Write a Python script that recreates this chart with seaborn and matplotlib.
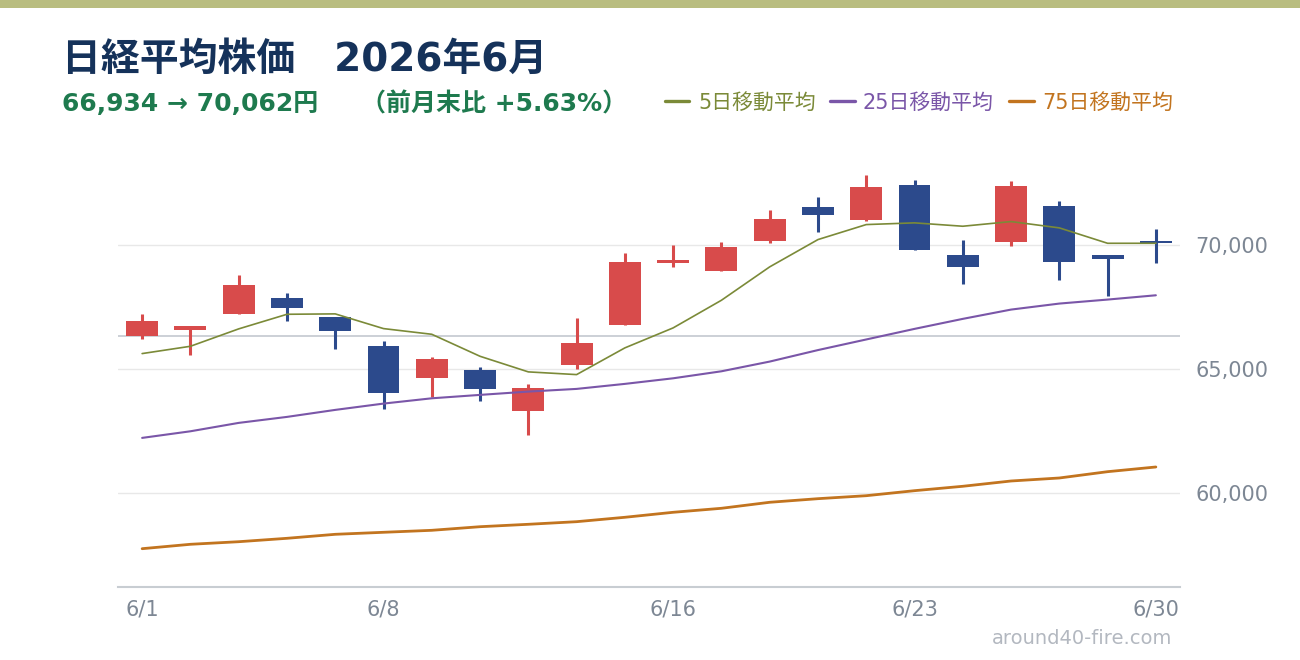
import matplotlib
matplotlib.use("Agg")
import matplotlib.pyplot as plt
import pandas as pd
import seaborn as sns
from matplotlib.lines import Line2D
from matplotlib.patches import Rectangle

W, H = 1300, 660

# trading days of June 2026
dates = ["6/1", "6/2", "6/3", "6/4", "6/5", "6/8", "6/9", "6/10", "6/11", "6/12", "6/15",
         "6/16", "6/17", "6/18", "6/19", "6/22", "6/23", "6/24", "6/25", "6/26", "6/29", "6/30"]
opens = [66348, 66590, 67206, 67878, 67113, 65946, 64629, 64980, 63301, 65153, 66763,
         69259, 68965, 70145, 71542, 71019, 72428, 69609, 70105, 71582, 69609, 70140]
highs = [67234, 66751, 68805, 68080, 67113, 66147, 65503, 65100, 64416, 67073, 69690,
         70012, 70133, 71421, 71945, 72830, 72629, 70213, 72589, 71784, 69609, 70656]
lows = [66228, 65555, 67206, 66924, 65825, 63381, 63893, 63703, 62335, 64992, 66763,
        69098, 68965, 70064, 70507, 70978, 69783, 68442, 69972, 68603, 67959, 69287]
closes = [66952, 66751, 68402, 67448, 66550, 64025, 65422, 64187, 64255, 66038, 69328,
          69408, 69932, 71059, 71220, 72347, 69783, 69126, 72387, 69328, 69448, 70062]

ma5 = [65624, 65918, 66618, 67206, 67222, 66630, 66401, 65515, 64887, 64778, 65853,
       66658, 67770, 69114, 70213, 70817, 70886, 70750, 70938, 70684, 70064, 70064]
ma25 = [62230, 62496, 62834, 63075, 63357, 63611, 63824, 63961, 64094, 64202, 64404,
        64629, 64911, 65302, 65765, 66192, 66618, 67021, 67395, 67637, 67798, 67971]
ma75 = [57770, 57947, 58051, 58188, 58349, 58430, 58510, 58655, 58752, 58857, 59034,
        59235, 59396, 59638, 59783, 59903, 60105, 60282, 60495, 60616, 60870, 61059]

ref_level = 66330
y_ticks = [60000, 65000, 70000]
x_tick_dates = ["6/1", "6/8", "6/16", "6/23", "6/30"]

title = "日経平均株価\u30002026年6月"
subtitle_price = "66,934 → 70,062円"
subtitle_change = "（前月末比 +5.63%）"
legend_labels = ["5日移動平均", "25日移動平均", "75日移動平均"]
watermark = "around40-fire.com"

UP_COLOR = "#d84b4b"
DOWN_COLOR = "#2c4a8c"
MA_COLORS = ["#7b8a38", "#7a56a8", "#c2741f"]
TICK_COLOR = "#7d8794"

sns.set_theme(style="white")
plt.rcParams["font.family"] = ["DejaVu Sans", "Noto Sans CJK JP"]

df = pd.DataFrame({"date": dates, "open": opens, "high": highs, "low": lows, "close": closes,
                   "ma5": ma5, "ma25": ma25, "ma75": ma75})
df["pos"] = range(len(df))
df["color"] = [UP_COLOR if c >= o else DOWN_COLOR for o, c in zip(df["open"], df["close"])]

fig = plt.figure(figsize=(W / 100, H / 100), dpi=100)
fig.add_artist(Rectangle((0, 1 - 8 / H), 1, 8 / H, transform=fig.transFigure,
                         color="#b9bd80", lw=0))

ax = fig.add_axes([118 / W, 1 - 586.7 / H, (1180 - 118) / W, (586.7 - 145.5) / H])

# candles
ax.vlines(df["pos"], df["low"], df["high"], colors=df["color"], lw=2.2, zorder=3)
ax.bar(df["pos"], (df["close"] - df["open"]).abs(), bottom=df[["open", "close"]].min(axis=1),
       width=0.66, color=df["color"], lw=0, zorder=3)

# moving averages
for col, color, lw in [("ma75", MA_COLORS[2], 2.0), ("ma25", MA_COLORS[1], 1.5), ("ma5", MA_COLORS[0], 1.2)]:
    sns.lineplot(data=df, x="pos", y=col, ax=ax, color=color, lw=lw, zorder=4)

ax.axhline(ref_level, color="#bfc4cc", lw=1.1, zorder=1)

ax.set_xlim(-0.5, len(dates) - 0.5)
ax.set_ylim(56240, 74000)
ax.set_xticks([dates.index(d) for d in x_tick_dates])
ax.set_xticklabels(x_tick_dates)
ax.yaxis.tick_right()
ax.set_yticks(y_ticks)
ax.set_yticklabels([f"{v:,}" for v in y_ticks])
ax.tick_params(length=0, labelsize=15, labelcolor=TICK_COLOR)
ax.tick_params(axis="x", pad=9)
ax.tick_params(axis="y", pad=11)
ax.set_xlabel("")
ax.set_ylabel("")
ax.grid(axis="y", color="#e8e8e8", lw=1)
ax.grid(axis="x", visible=False)
ax.set_axisbelow(True)
for side in ["top", "left", "right"]:
    ax.spines[side].set_visible(False)
ax.spines["bottom"].set_color("#c8cdd2")
ax.spines["bottom"].set_linewidth(1.5)

# header
fig.text(62 / W, 1 - 71 / H, title, fontsize=28, fontweight="bold", color="#15325a", va="baseline")
fig.text(62 / W, 1 - 111 / H, subtitle_price, fontsize=18, fontweight="bold", color="#1e7a4e",
         va="baseline")
fig.text(361 / W, 1 - 111 / H, subtitle_change, fontsize=18, fontweight="bold", color="#1e7a4e",
         va="baseline")

# legend
legend_pos = [(665, 689, 698), (830, 855, 863), (1009, 1034, 1042)]
for (x0, x1, xt), label, color in zip(legend_pos, legend_labels, MA_COLORS):
    fig.add_artist(Line2D([x0 / W, x1 / W], [1 - 101 / H] * 2, color=color, lw=2.4,
                          transform=fig.transFigure))
    fig.text(xt / W, 1 - 109 / H, label, fontsize=15, color=color, va="baseline")

fig.text(1172 / W, 1 - 644 / H, watermark, fontsize=14, color="#b3b8c0", ha="right", va="baseline")

fig.savefig("out.png", dpi=100)
plt.close()
